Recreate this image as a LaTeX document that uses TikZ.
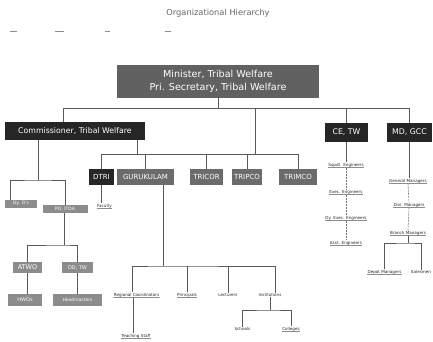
\documentclass[tikz,border=0pt]{standalone}
\usepackage{fontspec}
\setmainfont{DejaVu Sans}
\begin{document}
\begin{tikzpicture}[x=1pt,y=-1pt,
  conn/.style={draw=black!65,line width=0.8pt},
  dconn/.style={draw=black!55,line width=0.6pt,dash pattern=on 2pt off 1pt},
  topbox/.style={fill=black!62,text=white,inner sep=0pt,align=center,font=\fontsize{9.6}{13}\selectfont},
  darkbox/.style={fill=black!85,text=white,inner sep=0pt,font=\fontsize{7.8}{9}\selectfont},
  midbox/.style={fill=black!58,text=white,inner sep=0pt,font=\fontsize{7}{8}\selectfont},
  greybox/.style={fill=black!45,text=white,inner sep=0pt,font=\fontsize{4.5}{5}\selectfont},
  tinylbl/.style={inner sep=0.4pt,text=black!85,font=\fontsize{4.1}{5}\selectfont,
     path picture={\fill[black!45] (path picture bounding box.south west) rectangle ([yshift=-1.3pt]path picture bounding box.south east);}},
  smudge/.style={draw=black!45,line width=0.9pt}
]
\useasboundingbox (0,0) rectangle (433,341);

\node[text=black!60,font=\fontsize{8.3}{10}\selectfont] (title) at (218,13) {Organizational Hierarchy};
\coordinate (s1) at (10,31); \coordinate (s1e) at (17,31);
\coordinate (s2) at (55,31); \coordinate (s2e) at (64,31);
\coordinate (s3) at (105,31); \coordinate (s3e) at (110,31);
\coordinate (s4) at (165,31); \coordinate (s4e) at (171,31);
\draw[smudge] (s1) -- (s1e); \draw[smudge] (s2) -- (s2e);
\draw[smudge] (s3) -- (s3e); \draw[smudge] (s4) -- (s4e);

% top level
\node[topbox,minimum width=202pt,minimum height=33pt] (mini) at (218,81)
  {Minister, Tribal Welfare\\Pri. Secretary, Tribal Welfare};

% second level
\node[darkbox,minimum width=140pt,minimum height=18pt] (comm) at (75,131) {Commissioner, Tribal Welfare};
\node[darkbox,minimum width=43pt,minimum height=19pt] (cetw) at (346.5,132.5) {CE, TW};
\node[darkbox,minimum width=45pt,minimum height=19pt] (mdgcc) at (409.5,132.5) {MD, GCC};

\coordinate (bus) at (218,108);
\coordinate (commtop) at (63,122);
\coordinate (tribus) at (255,154);
\draw[conn] (mini.south) -- (bus);
\draw[conn] (commtop) |- (bus);
\draw[conn] (bus) -| (mdgcc.north);
\draw[conn] (cetw.north) -- (cetw.north |- bus);
\draw[conn] (tribus) -- (tribus |- bus);

% third level (institutions)
\node[darkbox,font=\fontsize{7}{8}\selectfont,minimum width=25pt,minimum height=16pt] (dtri) at (101.5,177) {DTRI};
\node[midbox,minimum width=57pt,minimum height=16pt] (guru) at (145.5,177) {GURUKULAM};
\node[midbox,minimum width=33pt,minimum height=16pt] (tricor) at (206.5,177) {TRICOR};
\node[midbox,minimum width=30pt,minimum height=16pt] (tripco) at (247,177) {TRIPCO};
\node[midbox,minimum width=38pt,minimum height=16pt] (trimco) at (298,177) {TRIMCO};

\coordinate (commr) at (137,140);
\draw[conn] (commr) -- (commr |- tribus);
\draw[conn] (dtri.north) |- (tribus);
\draw[conn] (guru.north) -- (guru.north |- tribus);
\draw[conn] (tricor.north) -- (tricor.north |- tribus);
\draw[conn] (tripco.north) -- (tripco.north |- tribus);
\draw[conn] (tribus) -| (trimco.north);

% commissioner's left branch
\node[greybox,minimum width=32pt,minimum height=8pt] (dyd) at (21,203.5) {Dy. D's};
\node[greybox,minimum width=45pt,minimum height=8pt] (itda) at (65,209) {PO, ITDA};
\node[tinylbl] (dtrist) at (104.5,206) {Faculty};
\coordinate (commlb) at (38,140);
\coordinate (lbus) at (38,180);
\coordinate (dydtop) at (10,199.5);
\draw[conn] (commlb) -- (lbus);
\draw[conn] (dydtop) |- (lbus) -| (itda.north);
\draw[conn] (dtri.south) -- (dtri.south |- dtrist.north);

\node[greybox,font=\fontsize{6.5}{7}\selectfont,minimum width=29pt,minimum height=11pt] (atwo) at (27.5,267.5) {ATWO};
\node[greybox,font=\fontsize{5}{6}\selectfont,minimum width=31pt,minimum height=11pt] (ddtw) at (77.5,267.5) {DD, TW};
\node[greybox,font=\fontsize{5}{6}\selectfont,minimum width=34pt,minimum height=12pt] (hwo) at (25,300) {HWOs};
\node[greybox,minimum width=49pt,minimum height=12pt] (hm) at (77.5,300) {Headmasters};
\coordinate (abus) at (64,245);
\draw[conn] (itda.south -| abus) -- (abus);
\draw[conn] (atwo.north) |- (abus) -| (ddtw.north);
\draw[conn] (atwo.south) -- (hwo.north -| atwo.south);
\draw[conn] (ddtw.south) -- (hm.north -| ddtw.south);

% gurukulam branch
\node[tinylbl] (g1) at (136.5,295) {Regional Coordinators};
\node[tinylbl] (g2) at (187,295) {Principals};
\node[tinylbl] (g3) at (228,295) {Lecturers};
\node[tinylbl] (g4) at (270,295) {Institutions};
\node[tinylbl] (g1a) at (136,336) {Teaching Staff};
\node[tinylbl] (g4a) at (242.5,329) {Schools};
\node[tinylbl] (g4b) at (291,329) {Colleges};
\coordinate (gbus) at (163,266);
\coordinate (gsrc) at (163,185);
\coordinate (g1top) at (132,292);
\draw[conn] (gsrc) -- (gbus);
\draw[conn] (g1top) |- (gbus) -| (g4.north -| 275,0);
\draw[conn] (g2.north) -- (g2.north |- gbus);
\draw[conn] (g3.north) -- (g3.north |- gbus);
\coordinate (g1bot) at (133,298);
\draw[conn] (g1bot) -- (g1bot |- g1a.north);
\coordinate (g4bus) at (270,310);
\draw[conn] (g4.south) -- (g4bus);
\draw[conn] (g4a.north) |- (g4bus) -| (g4b.north);

% CE, TW chain
\node[tinylbl] (ce1) at (346,165) {Supdt. Engineers};
\node[tinylbl] (ce2) at (346,192) {Exec. Engineers};
\node[tinylbl] (ce3) at (346,218) {Dy. Exec. Engineers};
\node[tinylbl] (ce4) at (346,243) {Asst. Engineers};
\draw[conn] (cetw.south) -- (ce1.north -| cetw.south);
\draw[dconn] (ce1.south) -- (ce2.north);
\draw[dconn] (ce2.south) -- (ce3.north);
\draw[dconn] (ce3.south) -- (ce4.north);

% MD, GCC chain
\node[tinylbl] (md1) at (408,181) {General Managers};
\node[tinylbl] (md2) at (409,205) {Divl. Managers};
\node[tinylbl] (md3) at (408,233) {Branch Managers};
\node[tinylbl] (md4) at (384.5,272) {Depot Managers};
\node[tinylbl] (md5) at (421,272) {Salesmen};
\coordinate (mdbus) at (408,243);
\draw[conn] (mdgcc.south) -- (md1.north -| mdgcc.south);
\draw[dconn] (md1.south) -- (md2.north);
\draw[dconn] (md2.south) -- (md3.north);
\draw[conn] (md3.south) -- (mdbus);
\draw[conn] (md4.north) |- (mdbus) -| (md5.north);
\end{tikzpicture}
\end{document}
